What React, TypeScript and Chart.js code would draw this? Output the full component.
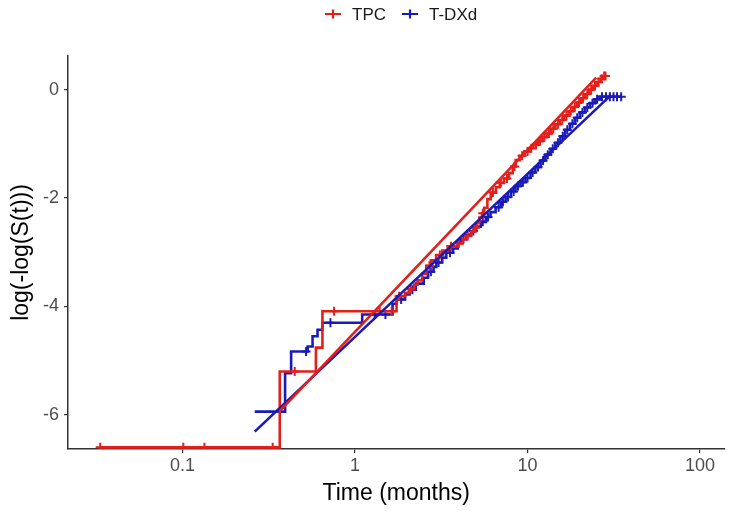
import React, { useEffect, useRef } from "react";
import { Chart, registerables } from "chart.js";

Chart.register(...registerables);

const seriesNames = ["TPC", "T-DXd"];
const seriesColors = ["#e41f1a", "#1a1ab8"];

// Kaplan-Meier log(-log(S(t))) steps: value after the jump at each time
const tpcTimes = [0.0333, 0.366, 0.593, 0.647, 1.74, 1.95, 2.05, 2.2, 2.3, 2.45, 2.59, 2.75, 2.95, 3.2, 3.45, 3.94, 4.2, 4.4, 4.7, 4.91, 5.1, 5.25, 5.45, 5.61, 5.85, 6.12, 6.55, 6.9, 7.3, 7.8, 8.2, 8.53, 9.0, 9.6, 10.2, 10.8, 11.5, 12.2, 12.9, 13.7, 14.5, 15.4, 16.3, 17.3, 18.3, 19.4, 20.5, 21.6, 22.8, 24.0, 25.3, 26.5, 27.3];
const tpcValues = [-6.6, -5.2, -4.76, -4.09, -3.81, -3.75, -3.68, -3.6, -3.52, -3.4, -3.25, -3.15, -3.05, -2.97, -2.89, -2.84, -2.76, -2.7, -2.62, -2.55, -2.45, -2.36, -2.28, -2.18, -2.02, -1.9, -1.8, -1.72, -1.64, -1.54, -1.42, -1.3, -1.22, -1.14, -1.08, -1.02, -0.95, -0.88, -0.81, -0.72, -0.64, -0.56, -0.48, -0.4, -0.32, -0.24, -0.16, -0.08, 0.0, 0.07, 0.14, 0.2, 0.25];
const tpcCensorTimes = [0.0333, 0.101, 0.134, 0.333, 0.447, 0.756, 1.39, 1.63, 1.8, 2.1, 2.7, 3.1, 3.6, 4.0, 4.5, 5.0, 5.5, 6.3, 7.0, 7.6, 8.4, 9.3, 10.0, 10.5, 11.2, 11.8, 12.5, 13.3, 14.1, 15.0, 15.9, 16.8, 17.8, 18.8, 19.9, 21.0, 22.2, 23.4, 24.6, 25.8, 26.9, 27.8, 28.3];
const tpcCensorValues = [-6.6, -6.6, -6.6, -6.6, -5.2, -4.09, -4.09, -4.09, -3.81, -3.68, -3.25, -3.05, -2.89, -2.84, -2.7, -2.55, -2.28, -1.9, -1.72, -1.64, -1.42, -1.22, -1.14, -1.08, -1.02, -0.95, -0.88, -0.81, -0.72, -0.64, -0.56, -0.48, -0.4, -0.32, -0.24, -0.16, -0.08, 0.0, 0.07, 0.14, 0.2, 0.25, 0.25];

const tdxdTimes = [0.262, 0.393, 0.426, 0.531, 0.567, 0.606, 0.647, 1.1, 1.65, 1.74, 1.95, 2.07, 2.25, 2.5, 2.65, 2.85, 2.96, 3.2, 3.38, 3.7, 3.94, 4.12, 4.4, 4.7, 5.02, 5.35, 5.73, 6.1, 6.53, 7.0, 7.46, 8.0, 8.51, 9.1, 9.72, 10.4, 11.1, 11.9, 12.7, 13.6, 14.5, 15.5, 16.5, 17.6, 18.8, 20.1, 21.5, 23.0, 24.5, 26.2, 34.9];
const tdxdValues = [-5.94, -5.23, -4.83, -4.74, -4.55, -4.43, -4.3, -4.15, -3.95, -3.87, -3.78, -3.69, -3.58, -3.47, -3.36, -3.27, -3.19, -3.1, -3.01, -2.93, -2.82, -2.76, -2.68, -2.61, -2.53, -2.44, -2.35, -2.26, -2.17, -2.07, -1.98, -1.88, -1.78, -1.71, -1.63, -1.53, -1.43, -1.31, -1.2, -1.09, -0.98, -0.86, -0.74, -0.63, -0.52, -0.42, -0.33, -0.25, -0.18, -0.13, -0.13];
const tdxdCensorTimes = [0.52, 0.72, 1.3, 1.5, 1.85, 2.15, 2.75, 3.05, 3.55, 4.25, 4.85, 5.5, 5.9, 6.8, 7.2, 7.7, 8.3, 8.8, 9.4, 10.0, 10.7, 11.5, 12.3, 13.1, 14.0, 15.0, 16.0, 17.0, 18.2, 19.4, 20.8, 22.2, 23.8, 25.3, 27, 28.5, 30, 31.5, 33, 34.9];
const tdxdCensorValues = [-4.83, -4.3, -4.15, -4.15, -3.87, -3.69, -3.36, -3.19, -3.01, -2.76, -2.61, -2.44, -2.35, -2.17, -2.07, -1.98, -1.88, -1.78, -1.71, -1.63, -1.53, -1.43, -1.31, -1.2, -1.09, -0.98, -0.86, -0.74, -0.63, -0.52, -0.42, -0.33, -0.25, -0.18, -0.13, -0.13, -0.13, -0.13, -0.13, -0.13];

// straight reference lines
const tpcFitTimes = [0.366, 25];
const tpcFitValues = [-5.93, 0.22];
const tdxdFitTimes = [0.262, 30];
const tdxdFitValues = [-6.31, -0.12];

const xTicks = [0.1, 1, 10, 100];
const xTickLabels = ["0.1", "1", "10", "100"];
const yTicks = [-6, -4, -2, 0];
const yTickLabels = ["-6", "-4", "-2", "0"];

const xTitle = "Time (months)";
const yTitle = "log(-log(S(t)))";

const FONT = "'Liberation Sans', Arial, sans-serif";

const zip = (xs: number[], ys: number[]) => xs.map((x, i) => ({ x, y: ys[i] }));

const legendPlugin = {
  id: "customLegend",
  afterDraw(chart: any) {
    const ctx = chart.ctx;
    ctx.save();
    ctx.font = `17px ${FONT}`;
    ctx.textBaseline = "middle";
    const y = 14;
    const items = [
      { x: 325, label: seriesNames[0], color: seriesColors[0] },
      { x: 402, label: seriesNames[1], color: seriesColors[1] },
    ];
    items.forEach((it) => {
      ctx.strokeStyle = it.color;
      ctx.lineWidth = 2.2;
      ctx.beginPath();
      ctx.moveTo(it.x, y);
      ctx.lineTo(it.x + 16, y);
      ctx.moveTo(it.x + 8, y - 4.5);
      ctx.lineTo(it.x + 8, y + 4.5);
      ctx.stroke();
      ctx.fillStyle = "#1a1a1a";
      ctx.fillText(it.label, it.x + 27, y + 1);
    });
    ctx.restore();
  },
};

export default function App() {
  const ref = useRef<HTMLCanvasElement | null>(null);
  useEffect(() => {
    if (!ref.current) return;
    const chart = new Chart(ref.current, {
      type: "line",
      data: {
        datasets: [
          {
            type: "line",
            label: "TPC fit",
            data: zip(tpcFitTimes, tpcFitValues),
            borderColor: seriesColors[0],
            borderWidth: 2.6,
            pointRadius: 0,
          },
          {
            type: "line",
            label: "T-DXd fit",
            data: zip(tdxdFitTimes, tdxdFitValues),
            borderColor: seriesColors[1],
            borderWidth: 2.6,
            pointRadius: 0,
          },
          {
            type: "line",
            label: seriesNames[0],
            data: zip(tpcTimes, tpcValues),
            borderColor: seriesColors[0],
            borderWidth: 2.6,
            pointRadius: 0,
            stepped: true,
          },
          {
            type: "scatter",
            label: seriesNames[0] + " censored",
            data: zip(tpcCensorTimes, tpcCensorValues),
            borderColor: seriesColors[0],
            backgroundColor: seriesColors[0],
            pointStyle: "cross",
            pointRadius: 4.5,
            pointBorderWidth: 2,
            showLine: false,
          },
          {
            type: "line",
            label: seriesNames[1],
            data: zip(tdxdTimes, tdxdValues),
            borderColor: seriesColors[1],
            borderWidth: 2.6,
            pointRadius: 0,
            stepped: true,
          },
          {
            type: "scatter",
            label: seriesNames[1] + " censored",
            data: zip(tdxdCensorTimes, tdxdCensorValues),
            borderColor: seriesColors[1],
            backgroundColor: seriesColors[1],
            pointStyle: "cross",
            pointRadius: 4.5,
            pointBorderWidth: 2,
            showLine: false,
          },
        ] as any,
      },
      options: {
        responsive: false,
        animation: false,
        events: [],
        layout: { padding: { top: 56, left: 0, right: 0, bottom: 0 } },
        plugins: { legend: { display: false }, tooltip: { enabled: false } },
        scales: {
          x: {
            type: "logarithmic",
            min: 0.02167,
            max: 138.6,
            afterBuildTicks: (s: any) => {
              s.ticks = xTicks.map((v) => ({ value: v }));
            },
            afterFit: (s: any) => {
              s.height = 62;
            },
            ticks: {
              callback: (v: any) => {
                const i = xTicks.indexOf(Number(v));
                return i >= 0 ? xTickLabels[i] : "";
              },
              color: "#4d4d4d",
              font: { family: FONT, size: 18 },
              padding: 2,
              maxRotation: 0,
              autoSkip: false,
            },
            grid: { drawOnChartArea: false, drawTicks: true, tickLength: 4, color: "#333333", lineWidth: 1.2 },
            border: { display: true, color: "#333333", width: 1.5 },
            title: {
              display: true,
              text: xTitle,
              color: "#000000",
              font: { family: FONT, size: 23 },
              padding: { top: 0, bottom: 4 },
            },
          },
          y: {
            type: "linear",
            min: -6.63,
            max: 0.62,
            afterBuildTicks: (s: any) => {
              s.ticks = yTicks.map((v) => ({ value: v }));
            },
            afterFit: (s: any) => {
              s.width = 68;
            },
            ticks: {
              callback: (v: any) => {
                const i = yTicks.indexOf(Number(v));
                return i >= 0 ? yTickLabels[i] : "";
              },
              color: "#4d4d4d",
              font: { family: FONT, size: 18 },
              padding: 5,
              autoSkip: false,
            },
            grid: { drawOnChartArea: false, drawTicks: true, tickLength: 4, color: "#333333", lineWidth: 1.2 },
            border: { display: true, color: "#333333", width: 1.5 },
            title: {
              display: true,
              text: yTitle,
              color: "#000000",
              font: { family: FONT, size: 23 },
              padding: { top: 8, bottom: 0 },
            },
          },
        },
      } as any,
      plugins: [legendPlugin],
    });
    return () => chart.destroy();
  }, []);
  return (
    <div style={{ position: "fixed", left: 0, top: 0, width: 731, height: 511, background: "#ffffff" }}>
      <canvas ref={ref} width={731} height={511} style={{ display: "block" }} />
    </div>
  );
}
